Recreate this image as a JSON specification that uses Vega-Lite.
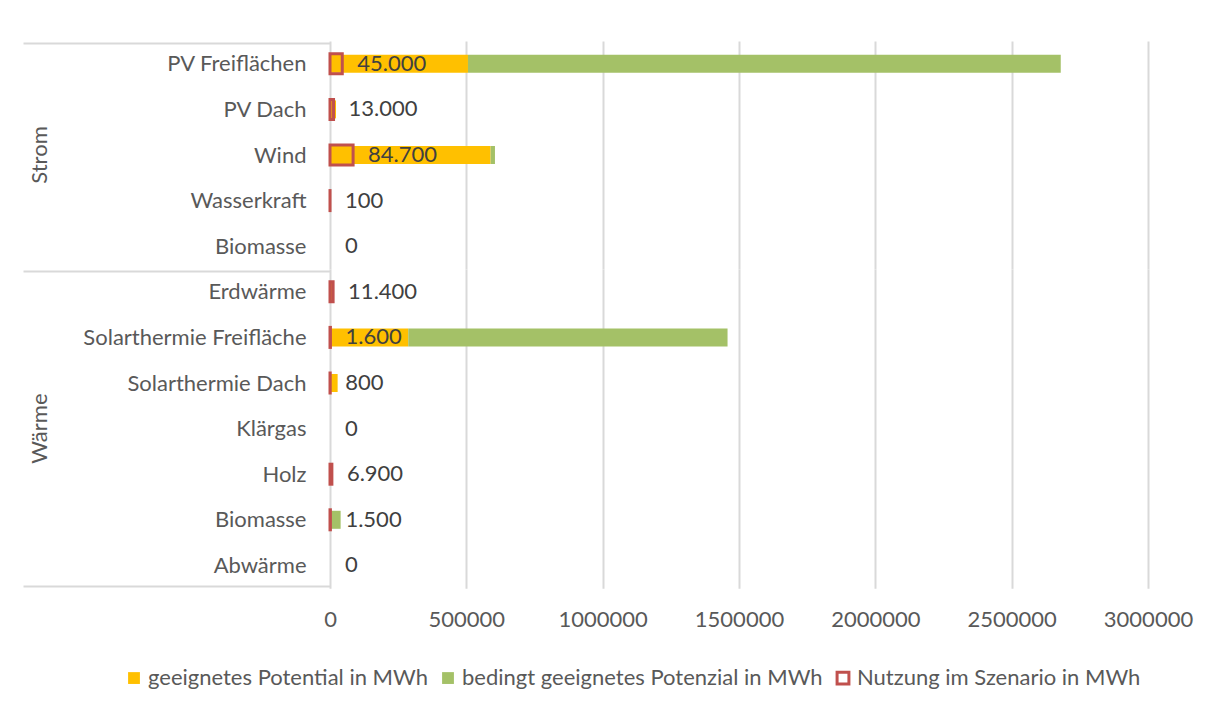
{
  "$schema": "https://vega.github.io/schema/vega-lite/v6.json",
  "padding": {"left": 22, "top": 41, "right": 5, "bottom": 5},
  "background": "white",
  "data": {
    "values": [
      {"grp": "Strom", "name": "PV Freiflächen", "geeignetes Potential in MWh": 506000, "bedingt geeignetes Potenzial in MWh": 2174000, "nutzung": 45000},
      {"grp": "Strom", "name": "PV Dach", "geeignetes Potential in MWh": 22000, "bedingt geeignetes Potenzial in MWh": 0, "nutzung": 13000},
      {"grp": "Strom", "name": "Wind", "geeignetes Potential in MWh": 589000, "bedingt geeignetes Potenzial in MWh": 16000, "nutzung": 84700},
      {"grp": "Strom", "name": "Wasserkraft", "geeignetes Potential in MWh": 1000, "bedingt geeignetes Potenzial in MWh": 0, "nutzung": 100},
      {"grp": "Strom", "name": "Biomasse", "geeignetes Potential in MWh": 0, "bedingt geeignetes Potenzial in MWh": 0, "nutzung": 0},
      {"grp": "Wärme", "name": "Erdwärme", "geeignetes Potential in MWh": 11400, "bedingt geeignetes Potenzial in MWh": 0, "nutzung": 11400},
      {"grp": "Wärme", "name": "Solarthermie Freifläche", "geeignetes Potential in MWh": 287000, "bedingt geeignetes Potenzial in MWh": 1171000, "nutzung": 1600},
      {"grp": "Wärme", "name": "Solarthermie Dach", "geeignetes Potential in MWh": 28000, "bedingt geeignetes Potenzial in MWh": 0, "nutzung": 800},
      {"grp": "Wärme", "name": "Klärgas", "geeignetes Potential in MWh": 0, "bedingt geeignetes Potenzial in MWh": 0, "nutzung": 0},
      {"grp": "Wärme", "name": "Holz", "geeignetes Potential in MWh": 6900, "bedingt geeignetes Potenzial in MWh": 0, "nutzung": 6900},
      {"grp": "Wärme", "name": "Biomasse", "geeignetes Potential in MWh": 3000, "bedingt geeignetes Potenzial in MWh": 36000, "nutzung": 1500},
      {"grp": "Wärme", "name": "Abwärme", "geeignetes Potential in MWh": 0, "bedingt geeignetes Potenzial in MWh": 0, "nutzung": 0}
    ]
  },
  "facet": {
    "row": {
      "field": "grp",
      "type": "nominal",
      "title": null,
      "sort": ["Strom", "Wärme"],
      "header": {"labelAngle": -90, "labelFontSize": 22, "labelColor": "#595959", "labelFont": "Lato", "labelPadding": -40}
    }
  },
  "spacing": {"row": 0},
  "resolve": {"scale": {"y": "independent"}},
  "spec": {
    "width": 818,
    "height": {"step": 45.6},
    "layer": [
      {
        "transform": [
          {"fold": ["geeignetes Potential in MWh", "bedingt geeignetes Potenzial in MWh"], "as": ["serie", "mwh"]}
        ],
        "mark": {"type": "bar", "size": 18},
        "encoding": {
          "y": {
            "field": "name",
            "type": "nominal",
            "sort": null,
            "title": null,
            "axis": {
              "domain": false,
              "labelFontSize": {"condition": {"test": "datum.extra", "value": 0}, "value": 22},
              "labelColor": "#595959",
              "labelFont": "Lato",
              "labelLimit": 400,
              "tickBand": "extent",
              "tickSize": 307,
              "tickWidth": 2,
              "tickColor": "#d9d9d9",
              "tickOpacity": {"condition": {"test": "datum.extra || datum.value === 'Abwärme'", "value": 1}, "value": 0},
              "labelPadding": -283
            }
          },
          "x": {
            "field": "mwh",
            "type": "quantitative",
            "stack": "zero",
            "title": null,
            "scale": {"domain": [0, 3000000], "nice": false},
            "axis": {
              "domain": false,
              "ticks": false,
              "format": "d",
              "values": [0, 500000, 1000000, 1500000, 2000000, 2500000, 3000000],
              "labelOverlap": false,
              "labelFlush": false,
              "labelFontSize": 22,
              "labelColor": "#595959",
              "labelFont": "Lato",
              "labelPadding": 20,
              "grid": true,
              "gridColor": "#d9d9d9",
              "gridWidth": 2
            }
          },
          "color": {
            "field": "serie",
            "type": "nominal",
            "scale": {
              "domain": ["geeignetes Potential in MWh", "bedingt geeignetes Potenzial in MWh", "Nutzung im Szenario in MWh"],
              "range": ["#ffc000", "#a4c167", "#ffffff"]
            },
            "legend": {
              "title": null,
              "orient": "none",
              "legendX": -207,
              "legendY": 626,
              "direction": "horizontal",
              "symbolType": "square",
              "symbolSize": 140,
              "labelFontSize": 22,
              "labelColor": "#595959",
              "labelFont": "Lato",
              "labelLimit": 400,
              "labelOffset": 3,
              "columnPadding": 8,
              "encode": {
                "symbols": {
                  "update": {
                    "stroke": {"signal": "datum.value === 'Nutzung im Szenario in MWh' ? '#c0504d' : 'transparent'"},
                    "strokeWidth": {"value": 3}
                  }
                }
              }
            }
          },
          "order": {"field": "serie", "sort": "descending"}
        }
      },
      {
        "mark": {"type": "bar", "size": 20, "fill": "transparent", "stroke": "#c0504d", "strokeWidth": 3},
        "encoding": {
          "y": {"field": "name", "type": "nominal", "sort": null, "title": null},
          "x": {"field": "nutzung", "type": "quantitative", "title": null},
          "strokeOpacity": {"condition": {"test": "datum.nutzung > 0", "value": 1}, "value": 0}
        }
      },
      {
        "mark": {"type": "text", "align": "left", "baseline": "middle", "dx": 15, "fontSize": 22, "font": "Lato", "color": "#404040"},
        "encoding": {
          "y": {"field": "name", "type": "nominal", "sort": null, "title": null},
          "x": {"field": "nutzung", "type": "quantitative", "title": null},
          "text": {"field": "nutzung", "type": "quantitative", "format": ",.0f"}
        }
      }
    ]
  },
  "config": {
    "font": "Lato",
    "view": {"stroke": null},
    "locale": {"number": {"decimal": ",", "thousands": ".", "grouping": [3], "currency": ["", " €"]}}
  }
}
